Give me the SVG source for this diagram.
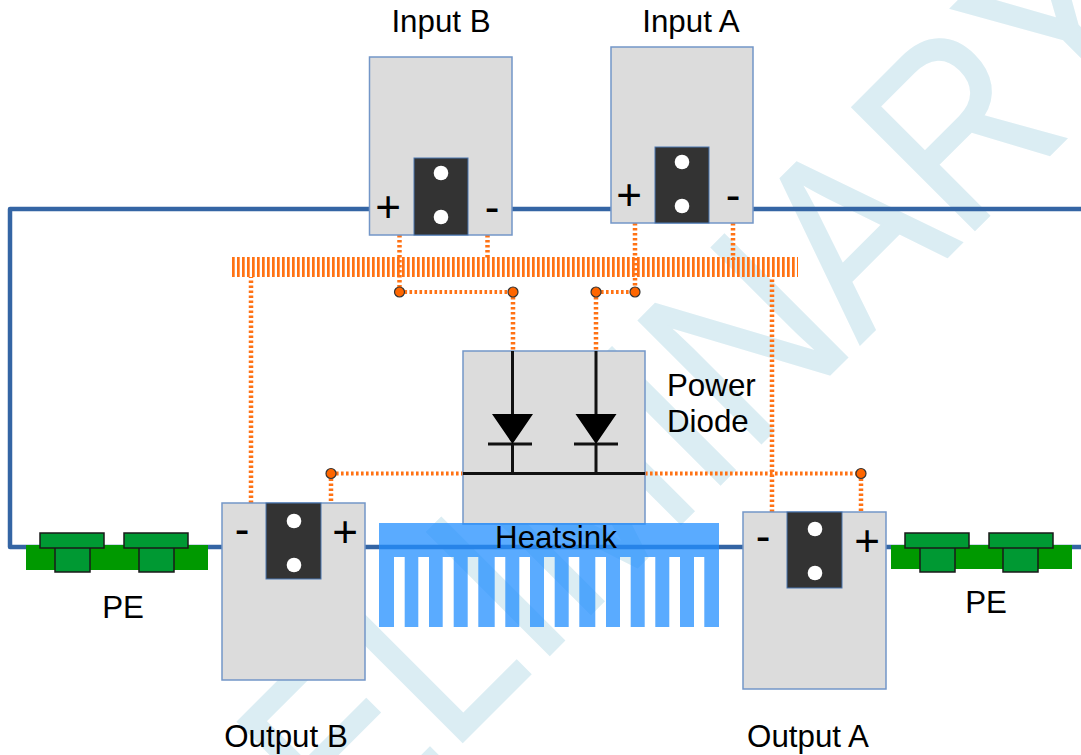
<svg xmlns="http://www.w3.org/2000/svg" width="1081" height="755" viewBox="0 0 1081 755">
<style>
text{font-family:"Liberation Sans",Arial,sans-serif;fill:#000}
.l{font-size:31.300px;text-anchor:middle}
.s{font-size:44px;text-anchor:middle}
.box{fill:#dcdcdc;stroke:#7396c8;stroke-width:1.500}
.blk{fill:#333;stroke:#4a76b0;stroke-width:1}
.hole{fill:#fff}
.bus{fill:none;stroke:#3465a4;stroke-width:4.500;stroke-linejoin:round}
.dot{fill:none;stroke:#ff7214;stroke-width:4.500;stroke-dasharray:2.600 2.400}
.dh{fill:none;stroke:#ff7214;stroke-width:4;stroke-dasharray:2.600 2.400}
.comb{fill:none;stroke:#ff7214;stroke-width:20;stroke-dasharray:2.700 2.300}
.j{fill:#ff6600;stroke:#333;stroke-width:1.200}
.g{fill:#009900}
.c{fill:#009933;stroke:#1a1a1a;stroke-width:1.500}
.d{fill:none;stroke:#111;stroke-width:3}
.wm{font-size:252px;fill:#dbedf3;stroke:#dbedf3;stroke-width:2}
</style>
<text class="wm" transform="translate(134.300 1070.300) rotate(-45) scale(.862 1)">PRELIMINARY</text>
<g id="connectors">
<path class="bus" d="M1081 209H10V547H1081"/>
<path class="comb" d="M232 267H798"/>
<path class="dot" d="M399.500 235V292M487.500 235V260M635 223V292M733 223V260M251 503V277M772 512V277M513 292V351M596 292V351M331 473.500V503M861 473.500V512"/>
<path class="dh" d="M399.500 292H513M596 292H635M331 473.500H463M645 473.500H861"/>
<circle class="j" cx="399.500" cy="292" r="5"/><circle class="j" cx="513" cy="292" r="5"/><circle class="j" cx="596" cy="292" r="5"/><circle class="j" cx="635" cy="292" r="5"/><circle class="j" cx="331" cy="473.500" r="5"/><circle class="j" cx="861" cy="473.500" r="5"/>
</g>
<g id="pe-left">
<rect class="g" x="26" y="545" width="182" height="25"/>
<rect class="c" x="55" y="547" width="35" height="25"/><rect class="c" x="40" y="533" width="64" height="15"/>
<rect class="c" x="139" y="547" width="35" height="25"/><rect class="c" x="124" y="533" width="64" height="15"/>
<text class="l" x="123" y="618">PE</text>
</g>
<g id="pe-right">
<rect class="g" x="891" y="545" width="181" height="24"/>
<rect class="c" x="920" y="547" width="35" height="25"/><rect class="c" x="905" y="533" width="64" height="15"/>
<rect class="c" x="1003" y="547" width="35" height="25"/><rect class="c" x="989" y="533" width="64" height="15"/>
<text class="l" x="986" y="613">PE</text>
</g>
<g id="input-b">
<rect class="box" x="369.500" y="57" width="142.500" height="178"/><rect class="blk" x="414" y="158" width="54" height="77"/>
<circle class="hole" cx="441" cy="173" r="7.300"/><circle class="hole" cx="441" cy="217" r="7.300"/>
<text class="s" x="388" y="222">+</text><text class="s" x="492" y="222">-</text>
<text class="l" x="441" y="32">Input B</text>
</g>
<g id="input-a">
<rect class="box" x="611" y="47" width="142" height="176"/><rect class="blk" x="655" y="147" width="54" height="76"/>
<circle class="hole" cx="682" cy="162" r="7.300"/><circle class="hole" cx="682" cy="206" r="7.300"/>
<text class="s" x="629" y="210">+</text><text class="s" x="733" y="210">-</text>
<text class="l" x="691" y="32">Input A</text>
</g>
<g id="power-diode">
<rect class="box" x="463" y="351" width="182" height="173"/>
<path class="d" d="M512.500 351V414M512.500 444V473.500M596 351V414M596 444V473.500M463 473.500H645M488 444H532M574 444H618"/>
<path d="M492 414H533L512.500 444ZM575.500 414H616.500L596 444Z" fill="#000"/>
<text class="l" x="667" y="396" style="text-anchor:start">Power</text>
<text class="l" x="667" y="432" style="text-anchor:start">Diode</text>
</g>
<g id="output-b">
<rect class="box" x="222" y="503" width="143" height="177"/><rect class="blk" x="266" y="503" width="55" height="76"/>
<circle class="hole" cx="294" cy="521" r="7.300"/><circle class="hole" cx="294" cy="565" r="7.300"/>
<text class="s" x="242" y="544">-</text><text class="s" x="345" y="547">+</text>
<text class="l" x="286" y="747">Output B</text>
</g>
<g id="output-a">
<rect class="box" x="743" y="512" width="143" height="177"/><rect class="blk" x="787" y="512" width="55" height="76"/>
<circle class="hole" cx="815" cy="529" r="7.300"/><circle class="hole" cx="815" cy="573" r="7.300"/>
<text class="s" x="763" y="551">-</text><text class="s" x="867" y="556">+</text>
<text class="l" x="808" y="747">Output A</text>
</g>
<g id="heatsink">
<path fill="#238fff" fill-opacity=".75" d="M379 523H719V627H704.300V557H694V627H680V557H669.300V627H655.300V557H644.700V627H630.700V557H620V627H606V557H595.300V627H579.300V557H568.700V627H554.700V557H544V627H530V557H519.300V627H505.300V557H494.700V627H478.300V557H467.700V627H453.700V557H442.700V627H429V557H418.300V627H404.700V557H394V627H379Z"/>
<text class="l" x="556" y="548">Heatsink</text>
</g>
</svg>
